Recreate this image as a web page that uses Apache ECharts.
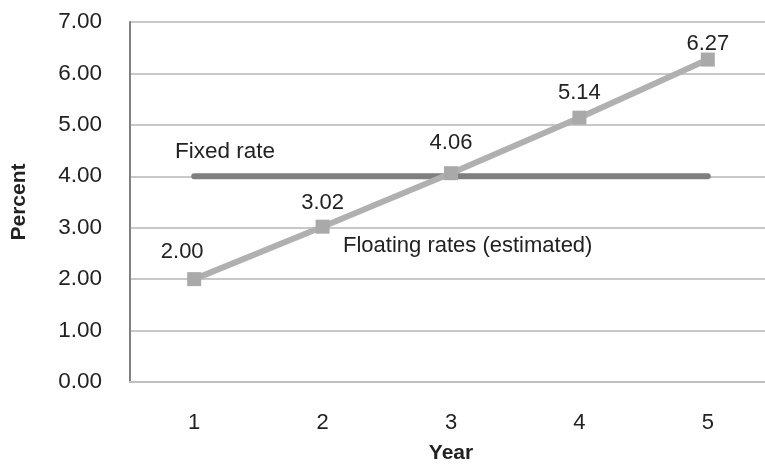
<!DOCTYPE html>
<html><head><meta charset="utf-8">
<script src="https://cdn.jsdelivr.net/npm/echarts@6/dist/echarts.min.js"></script>
<style>html,body{margin:0;padding:0;background:#fff}#c{width:765px;height:464px}</style>
</head><body><div id="c"></div>
<script>
var years = ['1','2','3','4','5'];
var fixedRate = [4.00, 4.00, 4.00, 4.00, 4.00];
var floatingRates = [2.00, 3.02, 4.06, 5.14, 6.27];
var yTicks = [0, 1, 2, 3, 4, 5, 6, 7];
var labelOffsets = [[-12, -1], [0, 2], [0, -4], [0, 1], [0, 10]];

var FONT = 'Liberation Sans, Arial, sans-serif';
var chart = echarts.init(document.getElementById('c'), null, {renderer: 'canvas'});
chart.setOption({
  animation: false,
  grid: {left: 130, right: -7, top: 22, bottom: 82, containLabel: false, outerBoundsMode: 'none'},
  xAxis: {
    type: 'category', data: years, boundaryGap: true,
    name: 'Year', nameLocation: 'middle', nameGap: 61,
    nameTextStyle: {fontFamily: FONT, fontWeight: 'bold', fontSize: 21, color: '#222'},
    axisLine: {lineStyle: {color: '#c0c0c0', width: 2}},
    axisTick: {show: false},
    axisLabel: {fontFamily: FONT, fontSize: 22, color: '#222', margin: 30}
  },
  yAxis: {
    type: 'value', min: yTicks[0], max: yTicks[yTicks.length - 1], interval: 1,
    name: 'Percent', nameLocation: 'middle', nameGap: 100, nameRotate: 90,
    nameTextStyle: {fontFamily: FONT, fontWeight: 'bold', fontSize: 21, color: '#222'},
    axisLine: {show: true, lineStyle: {color: '#808080', width: 2}},
    axisTick: {show: false},
    axisLabel: {fontFamily: FONT, fontSize: 22.5, color: '#222', margin: 28,
      formatter: function (v) { return v.toFixed(2); }},
    splitLine: {lineStyle: {color: '#c8c8c8', width: 2}}
  },
  series: [
    {
      name: 'Fixed rate', type: 'line', data: fixedRate, symbol: 'none',
      lineStyle: {color: '#7f7f7f', width: 6, cap: 'round'}, z: 2
    },
    {
      name: 'Floating rates (estimated)', type: 'line',
      data: floatingRates.map(function (v, i) {
        return {value: v, label: {offset: labelOffsets[i]}};
      }),
      symbol: 'rect', symbolSize: 14,
      itemStyle: {color: '#a9a9a9'},
      lineStyle: {color: '#b0b0b0', width: 6},
      label: {show: true, position: 'top', distance: 8, fontFamily: FONT, fontSize: 22, color: '#222',
        formatter: function (p) { return p.value.toFixed(2); }},
      z: 3
    }
  ],
  graphic: [
    {type: 'text', left: 175, top: 140, style: {text: 'Fixed rate', font: '22.5px ' + FONT, fill: '#222'}},
    {type: 'text', left: 343, top: 235, style: {text: 'Floating rates (estimated)', font: '22px ' + FONT, fill: '#222'}}
  ]
});
</script></body></html>
